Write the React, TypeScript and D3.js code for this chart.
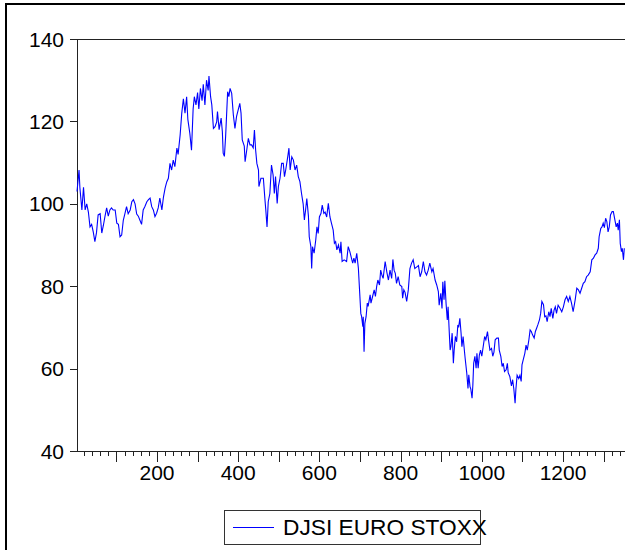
import React from "react";
import * as d3 from "d3";

const djsiPoints: [number, number][] = [
  [3,103],[8,108.2],[10,104],[15,98.5],[19,104],[23,98.5],[27,100],[31,98],[35,94.4],[39,95],
  [43,93.2],[47,90.8],[51,93],[55,97.3],[60,97.6],[64,92.9],[68,94.8],[72,97],[76,99],[80,97],
  [84,98.5],[88,99],[92,98.5],[97,98.5],[101,95.3],[105,95],[109,92],[113,92.4],[117,96],[121,97.6],
  [125,99.3],[129,97.6],[134,98.5],[138,100.5],[142,101],[146,100],[150,97.5],[154,97],[158,96],[162,95],
  [166,98.5],[170,99.3],[175,100.5],[179,101],[183,101.4],[187,99.3],[191,98.5],[195,96.9],[199,97.7],[203,99],
  [207,101.4],[212,98.5],[216,101.7],[220,103.8],[224,105.3],[228,106.2],[232,109.8],[236,108.2],[240,110.6],[244,109],
  [249,113.5],[252,112],[257,116.7],[261,122],[265,125.5],[269,122],[273,126],[276,120.5],[281,117],[285,113],
  [289,123],[292,126],[296,124],[300,127],[303,123],[307,128],[311,125],[314,129],[318,124],[322,130],
  [326,127.5],[328,131],[332,126],[335,124],[339,118.3],[343,118.7],
  [347,119.9],[349,122.4],[353,118],[358,120.8],[361,117.5],[363,112.3],[366,111.5],[369,116.3],[372,122.8],[374,127.2],
  [377,126],[380,128],[384,126.8],[388,121.6],[392,118.3],[396,121.2],[400,122.8],[404,124.4],[407,122],[410,115.5],
  [415,114],[417,110.2],[421,113],[425,115.9],[429,114.3],[433,114.3],[437,113.6],[440,117.9],[443,113],[446,109.8],
  [450,108.2],[451,104.2],[456,106.2],[462,106.2],[466,100.9],[468,98.5],[471,94.4],[474,100.5],[478,102.5],[482,109.4],
  [486,107],[489,102.5],[492,106.6],[496,100.1],[499,104.2],[503,106.2],[507,109.8],[511,109.8],[514,106.6],[517,108.2],
  [522,111.4],[525,113.5],[528,108.2],[532,111.4],[536,110.6],[540,108.2],[544,109.4],[548,106.6],[552,105.4],[556,102.5],
  [560,100],[563,96.1],[566,98.5],[569,101.3],[573,97],[575,92],[579,89.6],[581,84.3],[583,89.6],[587,88],
  [591,91.2],[594,94.4],[597,92.8],[600,96.8],[604,97.7],[607,99.7],[611,97.7],[614,98],[618,96.8],[622,100.1],
  [626,96.8],[630,95.2],[634,93.6],[637,90.4],[640,90.8],[643,88.8],[647,90],[651,88],[653,90.8],[656,86],
  [661,86.4],[667,86],[671,89.6],[675,88.4],[680,86.4],[682,85.6],[685,86.8],[688,85.6],[692,88],[696,84.4],
  [698,80.7],[702,73.4],[704,72.6],[707,70.2],[708,72.6],[710,64.1],[712,71],[715,72.6],[718,75.9],[720,75.1],
  [725,77.9],[727,75.9],[731,77.5],[735,79.1],[738,77.5],[741,79.9],[744,81.5],[748,80.3],[751,83.9],[754,82.7],
  [757,81.9],[762,86],[766,83.5],[770,81.5],[774,83.9],[778,81.9],[781,86.5],[784,83.9],[787,83.1],[790,80.7],
  [794,82.3],[798,80.3],[803,79.9],[805,77.1],[808,79.1],[811,78.5],[815,76.3],[819,79.1],[823,84.3],[827,85.6],
  [831,86.4],[835,84.3],[840,84.7],[844,85],[848,82.3],[852,83.5],[856,86],[860,83.5],[864,82.7],[868,83.9],
  [872,85.6],[877,83.5],[880,84.3],[885,81.5],[889,80.3],[893,78.7],[895,75.4],[899,78.3],[902,74.6],[904,81.1],
  [907,76.7],[909,81.3],[912,75.8],[915,71.8],[917,75],[920,68.6],[922,64.5],[924,65.3],[927,68.6],[930,61.3],
  [932,64.5],[935,67.8],[938,66.5],[941,70.6],[943,70],[946,72.2],[949,68.6],[951,65.3],[954,67.8],[957,64.5],
  [959,62.5],[963,58.9],[966,55.2],[968,58.5],[971,55.6],[973,55],[976,52.8],[978,56],[980,61.3],[983,63],
  [986,60.1],[988,63.7],[991,60.1],[994,63.3],[997,64.5],[1000,63],[1004,65.7],[1007,67.8],[1010,67],[1014,69],
  [1017,66.6],[1020,64.5],[1024,64.9],[1027,63],[1030,64],[1033,67],[1037,67.4],[1041,67.4],[1043,64.5],[1047,62.9],
  [1050,60.5],[1053,61.3],[1056,59.3],[1060,59.7],[1063,61.3],[1065,59],[1069,58.1],[1073,55.8],[1076,57.3],[1079,55],
  [1082,51.6],[1084,55],[1087,58.4],[1091,57.6],[1094,58.4],[1097,56.9],[1099,60.9],[1102,62.1],[1106,63.7],[1109,65.7],
  [1112,64.5],[1116,67],[1119,69.4],[1122,69],[1125,68.2],[1129,67.4],[1132,69],[1135,69.8],[1138,70.6],[1142,71.8],
  [1145,73.4],[1148,76.3],[1152,75.5],[1155,72.6],[1158,72.8],[1161,71.4],[1165,73.8],[1168,72.6],[1171,74.6],[1175,72.2],
  [1178,74.2],[1181,75],[1184,73.4],[1188,75.4],[1193,74.6],[1197,73.8],[1201,75],[1205,76.7],[1209,77.5],[1213,76.3],
  [1217,77.5],[1221,75.9],[1225,73.8],[1230,76.7],[1234,79.5],[1238,79.1],[1242,78.3],[1246,79.5],[1250,80.7],[1254,81.1],
  [1258,82.3],[1262,82.7],[1267,83.5],[1271,86.4],[1275,86.8],[1279,87.6],[1283,88],[1287,89.2],[1289,92],[1293,94],
  [1296,94.4],[1299,95.3],[1302,94.2],[1305,96.5],[1308,95.7],[1311,93.2],[1314,94.4],[1317,97.3],[1321,98.1],[1324,98.1],
  [1327,96.5],[1331,94.4],[1334,95.3],[1336,93.6],[1339,96.1],[1341,90.4],[1344,88.4],[1346,89.2],[1349,86.4],[1351,89.2],
];

const yTicks = [40, 60, 80, 100, 120, 140];
const xLabelTicks = [200, 400, 600, 800, 1000, 1200];
const seriesName = "DJSI EURO STOXX";

export default function App() {
  const W = 625, H = 550;
  const left = 76.2, top = 39, bottom = 451;
  const x = d3.scaleLinear().domain([1, 1352]).range([left, 624.7]);
  const y = d3.scaleLinear().domain([40, 140]).range([bottom, top]);
  const line = d3.line<[number, number]>().x(d => x(d[0])).y(d => y(d[1]));
  const minor = d3.range(20, 1352, 20);
  const font = "'Liberation Sans', Arial, sans-serif";
  return (
    <svg width={W} height={H} style={{ position: "fixed", left: 0, top: 0, background: "#fff" }}>
      <rect x={0} y={0} width={W} height={H} fill="#fff" />
      <rect x={6} y={4} width={W + 50} height={H + 50} fill="none" stroke="#000" strokeWidth={2} />
      {/* axes */}
      <line x1={77.5} x2={77.5} y1={top} y2={bottom + 0.5} stroke="#222" strokeWidth={1} />
      <line x1={77} x2={W} y1={top + 0.5} y2={top + 0.5} stroke="#222" strokeWidth={1} />
      <line x1={77} x2={W} y1={bottom + 0.5} y2={bottom + 0.5} stroke="#222" strokeWidth={1} />
      {minor.map(v => {
        const major = v % 100 === 0;
        const px = Math.round(x(v)) + 0.5;
        return <line key={v} x1={px} x2={px} y1={bottom + 0.5} y2={bottom + (major ? 11 : 5)} stroke="#222" strokeWidth={1} />;
      })}
      {xLabelTicks.map(v => (
        <text key={v} x={x(v)} y={480} textAnchor="middle" fontFamily={font} fontSize={21} fill="#000">{v}</text>
      ))}
      {yTicks.map(v => (
        <g key={v}>
          <line x1={70} x2={77.5} y1={Math.round(y(v)) + 0.5} y2={Math.round(y(v)) + 0.5} stroke="#222" strokeWidth={1} />
          <text x={64} y={y(v)} dy="0.36em" textAnchor="end" fontFamily={font} fontSize={21} fill="#000">{v}</text>
        </g>
      ))}
      <path d={line(djsiPoints) || ""} fill="none" stroke="#0000ff" strokeWidth={1.1} />
      {/* legend */}
      <rect x={224.5} y={510.5} width={256} height={34} fill="none" stroke="#333" strokeWidth={1} />
      <line x1={233} x2={274} y1={527.5} y2={527.5} stroke="#0000ff" strokeWidth={1} />
      <text x={283} y={535} fontFamily={font} fontSize={22.5} textLength={204} lengthAdjust="spacingAndGlyphs" fill="#000">{seriesName}</text>
    </svg>
  );
}
